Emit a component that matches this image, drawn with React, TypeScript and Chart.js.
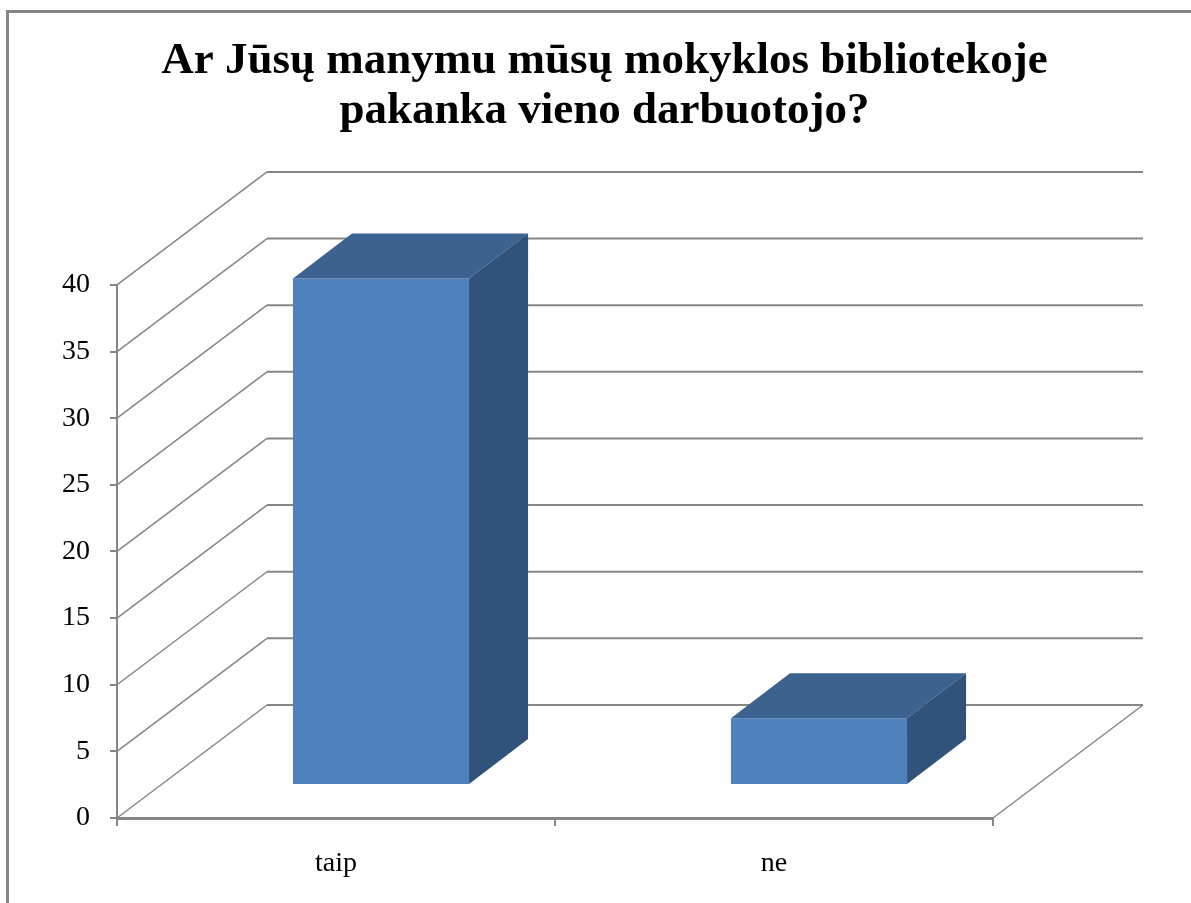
import React, { useEffect, useRef } from "react";
import { Chart, registerables } from "chart.js";

Chart.register(...registerables);

const titleLines = ["Ar Jūsų manymu mūsų mokyklos bibliotekoje", "pakanka vieno darbuotojo?"];
const categories = ["taip", "ne"];
const values = [38, 5];
const AXIS_MAX = 40;
const AXIS_STEP = 5;

const GRAY = "#868686";
const FRONT = "#4F81BD";
const TOP = "#3C6290";
const SIDE = "#31527B";
const FONT = "'Liberation Serif', serif";

const WALL = { dx: 150, dy: -113 };
const BAR_SHIFT = { dx: 45, dy: -33 };
const BAR_DEPTH = { dx: 59, dy: -45 };

const frame3d = {
  id: "frame3d",
  beforeDraw(chart: any) {
    const { ctx } = chart;
    ctx.save();
    ctx.fillStyle = "#fefefe";
    ctx.fillRect(0, 0, chart.width, chart.height);
    ctx.strokeStyle = GRAY;
    ctx.lineWidth = 3;
    ctx.beginPath();
    ctx.moveTo(7.5, chart.height);
    ctx.lineTo(7.5, 11.5);
    ctx.lineTo(chart.width, 11.5);
    ctx.stroke();
    ctx.restore();
  },
  beforeDatasetsDraw(chart: any) {
    const { ctx, chartArea, scales } = chart;
    ctx.save();
    ctx.strokeStyle = GRAY;
    scales.y.ticks.forEach((t: any) => {
      const y = scales.y.getPixelForValue(t.value);
      ctx.lineWidth = 1.5;
      ctx.beginPath();
      ctx.moveTo(chartArea.left, y);
      ctx.lineTo(chartArea.left + WALL.dx, y + WALL.dy);
      ctx.stroke();
      ctx.lineWidth = 2;
      ctx.beginPath();
      ctx.moveTo(chartArea.left + WALL.dx, y + WALL.dy);
      ctx.lineTo(chartArea.right + WALL.dx, y + WALL.dy);
      ctx.stroke();
    });
    ctx.lineWidth = 1.5;
    ctx.beginPath();
    ctx.moveTo(chartArea.right, chartArea.bottom);
    ctx.lineTo(chartArea.right + WALL.dx, chartArea.bottom + WALL.dy);
    ctx.stroke();
    ctx.restore();
    ctx.save();
    ctx.translate(BAR_SHIFT.dx, BAR_SHIFT.dy);
  },
  afterDatasetsDraw(chart: any) {
    const { ctx } = chart;
    chart.getDatasetMeta(0).data.forEach((bar: any) => {
      const { x, y, base, width } = bar.getProps(["x", "y", "base", "width"], true);
      const l = x - width / 2;
      const r = x + width / 2;
      ctx.fillStyle = TOP;
      ctx.beginPath();
      ctx.moveTo(l, y);
      ctx.lineTo(l + BAR_DEPTH.dx, y + BAR_DEPTH.dy);
      ctx.lineTo(r + BAR_DEPTH.dx, y + BAR_DEPTH.dy);
      ctx.lineTo(r, y);
      ctx.closePath();
      ctx.fill();
      ctx.fillStyle = SIDE;
      ctx.beginPath();
      ctx.moveTo(r, y);
      ctx.lineTo(r + BAR_DEPTH.dx, y + BAR_DEPTH.dy);
      ctx.lineTo(r + BAR_DEPTH.dx, base + BAR_DEPTH.dy);
      ctx.lineTo(r, base);
      ctx.closePath();
      ctx.fill();
    });
    ctx.restore();
  },
};

export default function App() {
  const ref = useRef<HTMLCanvasElement>(null);
  useEffect(() => {
    document.body.style.margin = "0";
    const chart = new Chart(ref.current!, {
      type: "bar",
      data: {
        labels: categories,
        datasets: [
          {
            data: values,
            backgroundColor: FRONT,
            borderWidth: 0,
            categoryPercentage: 1,
            barPercentage: 0.402,
            clip: false as any,
          },
        ],
      },
      options: {
        responsive: false,
        animation: false,
        layout: { padding: { left: 18, right: 0, top: 36, bottom: 0 } },
        plugins: {
          legend: { display: false },
          tooltip: { enabled: false },
          title: {
            display: true,
            text: titleLines,
            color: "#000",
            font: { family: FONT, size: 45, weight: "bold", lineHeight: 1.11 },
            padding: { top: 0, bottom: 149 },
          },
        },
        scales: {
          x: {
            grid: { drawOnChartArea: false, color: GRAY, tickLength: 8, lineWidth: 2 },
            border: { color: GRAY, width: 3 },
            ticks: { color: "#000", font: { family: FONT, size: 28 }, padding: 21, maxRotation: 0 },
            afterFit: (s: any) => { s.height = 85; },
          },
          y: {
            min: 0,
            max: AXIS_MAX,
            grid: { drawOnChartArea: false, color: GRAY, tickLength: 7, lineWidth: 2 },
            border: { color: GRAY, width: 2 },
            ticks: { stepSize: AXIS_STEP, color: "#000", font: { family: FONT, size: 28 }, padding: 20 },
            afterFit: (s: any) => { s.width = 99; },
          },
          spacer: {
            type: "linear",
            position: "right",
            display: true,
            grid: { display: false },
            border: { display: false },
            ticks: { display: false },
            afterFit: (s: any) => { s.width = 198; },
          },
        },
      } as any,
      plugins: [frame3d],
    });
    return () => chart.destroy();
  }, []);
  return <canvas ref={ref} width={1191} height={903} style={{ display: "block" }} />;
}
